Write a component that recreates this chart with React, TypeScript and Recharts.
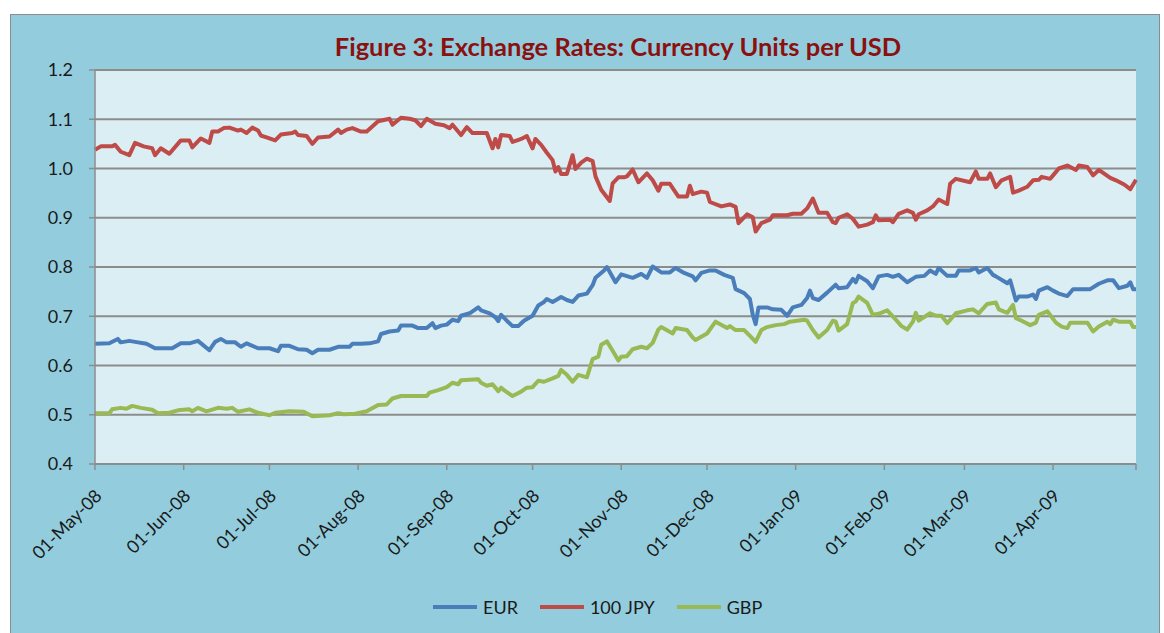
import { LineChart, Line, XAxis, YAxis, CartesianGrid } from "recharts";

// day = days since 01-May-08
const monthTicks = [0, 31, 61, 92, 123, 153, 184, 214, 245, 276, 304, 335, 364];
const monthLabels = [
  "01-May-08", "01-Jun-08", "01-Jul-08", "01-Aug-08", "01-Sep-08", "01-Oct-08",
  "01-Nov-08", "01-Dec-08", "01-Jan-09", "01-Feb-09", "01-Mar-09", "01-Apr-09", "",
];
const yTicks = [0.4, 0.5, 0.6, 0.7, 0.8, 0.9, 1.0, 1.1, 1.2];

const eurPoints: [number, number][] = [
  [0, 0.644], [5, 0.645], [8, 0.654], [9, 0.647], [12, 0.65], [14, 0.648], [18, 0.644], [21, 0.635],
  [27, 0.635], [30, 0.645], [33, 0.645], [36, 0.65], [40, 0.631], [42, 0.648], [44, 0.654], [46, 0.647],
  [49, 0.647], [51, 0.638], [53, 0.645], [57, 0.635], [61, 0.635], [64, 0.629], [65, 0.64], [68, 0.64],
  [71, 0.633], [74, 0.632], [76, 0.625], [78, 0.632], [82, 0.632], [85, 0.638], [89, 0.638], [90, 0.644],
  [93, 0.644], [96, 0.645], [99, 0.649], [100, 0.664], [103, 0.669], [106, 0.671], [107, 0.681], [111, 0.681],
  [113, 0.676], [116, 0.676], [118, 0.686], [119, 0.676], [121, 0.681], [123, 0.683], [125, 0.693], [127, 0.69],
  [128, 0.701], [131, 0.706], [134, 0.718], [135, 0.712], [138, 0.706], [140, 0.698], [141, 0.69], [142, 0.703],
  [144, 0.691], [146, 0.68], [148, 0.68], [150, 0.691], [153, 0.701], [155, 0.722], [157, 0.729], [158, 0.735],
  [160, 0.729], [163, 0.739], [165, 0.733], [167, 0.729], [169, 0.742], [172, 0.746], [174, 0.763], [175, 0.778],
  [178, 0.793], [179, 0.8], [182, 0.769], [184, 0.785], [188, 0.778], [191, 0.786], [193, 0.778], [195, 0.801],
  [198, 0.789], [201, 0.789], [203, 0.798], [206, 0.788], [209, 0.781], [210, 0.773], [212, 0.788], [215, 0.793],
  [217, 0.793], [220, 0.784], [223, 0.778], [224, 0.755], [227, 0.747], [229, 0.735], [230, 0.703], [231, 0.684],
  [232, 0.718], [235, 0.718], [237, 0.714], [240, 0.713], [242, 0.701], [244, 0.718], [247, 0.723], [249, 0.737],
  [250, 0.752], [251, 0.737], [253, 0.733], [256, 0.748], [259, 0.764], [260, 0.757], [263, 0.759], [265, 0.776],
  [266, 0.769], [267, 0.782], [270, 0.771], [272, 0.757], [274, 0.781], [277, 0.784], [279, 0.78], [281, 0.784],
  [284, 0.769], [287, 0.78], [290, 0.782], [292, 0.793], [294, 0.786], [295, 0.798], [298, 0.782], [301, 0.782],
  [302, 0.793], [306, 0.793], [308, 0.798], [309, 0.789], [312, 0.798], [314, 0.784], [315, 0.781], [319, 0.767],
  [320, 0.773], [322, 0.732], [323, 0.74], [326, 0.74], [328, 0.744], [329, 0.735], [330, 0.752], [333, 0.759],
  [335, 0.752], [337, 0.746], [340, 0.741], [342, 0.755], [348, 0.755], [351, 0.766], [354, 0.773], [356, 0.773],
  [358, 0.757], [361, 0.762], [362, 0.769], [363, 0.755], [364, 0.755],
];

const jpyPoints: [number, number][] = [
  [0, 1.038], [2, 1.045], [6, 1.045], [7, 1.048], [9, 1.034], [12, 1.027], [14, 1.052], [17, 1.045],
  [20, 1.041], [21, 1.027], [23, 1.041], [26, 1.03], [30, 1.057], [33, 1.057], [34, 1.043], [37, 1.061],
  [40, 1.052], [41, 1.075], [43, 1.075], [45, 1.082], [47, 1.083], [50, 1.077], [51, 1.079], [53, 1.072],
  [55, 1.083], [57, 1.077], [58, 1.067], [60, 1.063], [63, 1.057], [65, 1.069], [69, 1.072], [70, 1.075],
  [71, 1.068], [74, 1.066], [76, 1.05], [78, 1.063], [82, 1.065], [85, 1.079], [86, 1.072], [88, 1.079],
  [90, 1.082], [93, 1.075], [95, 1.075], [99, 1.096], [103, 1.101], [104, 1.089], [107, 1.103], [110, 1.101],
  [112, 1.098], [114, 1.086], [116, 1.101], [119, 1.091], [122, 1.088], [124, 1.082], [125, 1.089], [128, 1.068],
  [130, 1.084], [132, 1.072], [137, 1.072], [139, 1.041], [140, 1.06], [141, 1.043], [142, 1.068], [145, 1.066],
  [146, 1.054], [149, 1.06], [151, 1.066], [153, 1.041], [154, 1.06], [156, 1.048], [158, 1.032], [160, 1.017],
  [161, 0.994], [162, 1.003], [163, 0.989], [165, 0.989], [167, 1.027], [168, 0.999], [170, 1.012], [172, 1.02],
  [174, 1.015], [175, 0.984], [177, 0.957], [180, 0.934], [181, 0.97], [183, 0.982], [185, 0.982], [186, 0.984],
  [188, 0.998], [190, 0.972], [193, 0.99], [195, 0.976], [197, 0.955], [198, 0.969], [201, 0.969], [202, 0.96],
  [204, 0.943], [207, 0.943], [208, 0.965], [209, 0.948], [212, 0.953], [214, 0.951], [215, 0.932], [219, 0.923],
  [222, 0.927], [224, 0.922], [225, 0.889], [228, 0.907], [230, 0.901], [231, 0.872], [233, 0.889], [236, 0.896],
  [237, 0.905], [242, 0.905], [244, 0.908], [247, 0.908], [249, 0.919], [251, 0.939], [253, 0.91], [256, 0.91],
  [258, 0.891], [259, 0.889], [260, 0.9], [263, 0.907], [265, 0.898], [267, 0.882], [270, 0.886], [272, 0.891],
  [273, 0.905], [274, 0.895], [278, 0.896], [279, 0.891], [281, 0.908], [284, 0.915], [286, 0.91], [287, 0.896],
  [288, 0.907], [291, 0.915], [293, 0.923], [295, 0.937], [298, 0.928], [299, 0.969], [301, 0.979], [306, 0.972],
  [308, 0.994], [309, 0.979], [312, 0.979], [313, 0.99], [315, 0.962], [317, 0.976], [320, 0.983], [321, 0.951],
  [323, 0.955], [326, 0.963], [328, 0.976], [330, 0.977], [331, 0.983], [334, 0.979], [335, 0.986], [337, 1.0],
  [340, 1.006], [343, 0.997], [344, 1.006], [347, 1.003], [349, 0.986], [351, 0.997], [355, 0.981], [357, 0.976],
  [360, 0.967], [362, 0.958], [364, 0.977],
];

const gbpPoints: [number, number][] = [
  [0, 0.503], [5, 0.503], [6, 0.511], [9, 0.514], [11, 0.512], [13, 0.518], [16, 0.514], [20, 0.51],
  [22, 0.503], [26, 0.504], [29, 0.509], [33, 0.511], [34, 0.507], [36, 0.514], [39, 0.507], [43, 0.514],
  [46, 0.512], [48, 0.514], [50, 0.506], [54, 0.511], [57, 0.504], [61, 0.499], [63, 0.504], [68, 0.507],
  [73, 0.506], [76, 0.497], [82, 0.499], [85, 0.503], [87, 0.501], [91, 0.502], [95, 0.507], [99, 0.52],
  [102, 0.521], [104, 0.533], [107, 0.538], [116, 0.538], [117, 0.545], [120, 0.55], [123, 0.556], [125, 0.565],
  [127, 0.562], [128, 0.57], [134, 0.572], [135, 0.565], [137, 0.559], [139, 0.562], [141, 0.548], [142, 0.555],
  [143, 0.55], [146, 0.538], [149, 0.547], [151, 0.555], [153, 0.556], [155, 0.569], [157, 0.567], [160, 0.574],
  [162, 0.579], [163, 0.591], [165, 0.581], [167, 0.567], [169, 0.581], [172, 0.576], [174, 0.613], [176, 0.618],
  [177, 0.642], [179, 0.649], [181, 0.63], [183, 0.61], [184, 0.618], [186, 0.619], [188, 0.633], [191, 0.638],
  [193, 0.635], [195, 0.646], [197, 0.673], [198, 0.678], [202, 0.665], [203, 0.676], [207, 0.672], [209, 0.657],
  [210, 0.652], [214, 0.665], [217, 0.689], [221, 0.676], [222, 0.68], [224, 0.672], [227, 0.672], [229, 0.66],
  [231, 0.648], [233, 0.672], [235, 0.678], [238, 0.682], [241, 0.684], [243, 0.689], [248, 0.693], [249, 0.691],
  [251, 0.672], [253, 0.657], [256, 0.672], [258, 0.691], [259, 0.689], [260, 0.671], [263, 0.684], [265, 0.727],
  [266, 0.73], [267, 0.74], [270, 0.727], [272, 0.703], [274, 0.705], [277, 0.712], [280, 0.693], [282, 0.68],
  [284, 0.673], [286, 0.689], [287, 0.707], [288, 0.691], [292, 0.706], [294, 0.701], [296, 0.701], [298, 0.686],
  [301, 0.706], [305, 0.712], [307, 0.714], [309, 0.706], [312, 0.725], [315, 0.728], [316, 0.714], [319, 0.707],
  [321, 0.723], [322, 0.696], [324, 0.691], [327, 0.682], [329, 0.687], [330, 0.703], [333, 0.71], [336, 0.687],
  [338, 0.679], [340, 0.676], [341, 0.687], [347, 0.687], [349, 0.669], [351, 0.679], [354, 0.689], [355, 0.684],
  [356, 0.693], [358, 0.689], [362, 0.689], [363, 0.678], [364, 0.678],
];

const series = [
  { name: "EUR", points: eurPoints, color: "#4A7EBB" },
  { name: "100 JPY", points: jpyPoints, color: "#BE4B48" },
  { name: "GBP", points: gbpPoints, color: "#98B954" },
];

const FONT = "Lato, 'Open Sans', sans-serif";

function XTick(props: any) {
  const { x, y, payload } = props;
  const idx = monthTicks.indexOf(payload.value);
  const label = idx >= 0 ? monthLabels[idx] : "";
  const tx = x + 8;
  const ty = y + 27;
  return (
    <text
      x={tx}
      y={ty}
      transform={`rotate(-45, ${tx}, ${ty})`}
      textAnchor="end"
      fontSize={18}
      fontFamily={FONT}
      fill="#1a1a1a"
    >
      {label}
    </text>
  );
}

export default function App() {
  return (
    <div
      style={{
        position: "fixed",
        left: 10,
        top: 14,
        width: 1150,
        height: 630,
        boxSizing: "border-box",
        border: "1px solid #8c8c8c",
        background: "#93CDDD",
        fontFamily: FONT,
      }}
    >
      <div
        style={{
          position: "absolute",
          left: 207,
          top: 17,
          width: 800,
          textAlign: "center",
          fontSize: 25.5,
          lineHeight: "28px",
          fontWeight: 700,
          color: "#8B1010",
        }}
      >
        Figure 3: Exchange Rates: Currency Units per USD
      </div>
      <LineChart
        width={1148}
        height={615}
        margin={{ top: 55, right: 23, left: 24, bottom: 126 }}
      >
        <CartesianGrid
          vertical={false}
          fill="#DBEEF3"
          stroke="#8c8c8c"
          strokeWidth={2}
        />
        <XAxis
          dataKey="day"
          type="number"
          domain={[0, 364]}
          ticks={monthTicks}
          interval={0}
          height={40}
          tickSize={6}
          tickMargin={0}
          stroke="#8c8c8c"
          strokeWidth={1.5}
          tick={<XTick />}
          allowDuplicatedCategory={false}
        />
        <YAxis
          type="number"
          domain={[0.4, 1.2]}
          ticks={yTicks}
          interval={0}
          width={60}
          tickSize={6}
          tickMargin={16}
          stroke="#8c8c8c"
          strokeWidth={1.5}
          tick={{ fontSize: 18, fill: "#1a1a1a", fontFamily: FONT }}
          tickFormatter={(v: number) => v.toFixed(1)}
        />
        {series.map((s) => (
          <Line
            key={s.name}
            name={s.name}
            data={s.points.map(([day, value]) => ({ day, value }))}
            dataKey="value"
            type="linear"
            stroke={s.color}
            strokeWidth={4}
            strokeLinejoin="round"
            dot={false}
            activeDot={false}
            isAnimationActive={false}
          />
        ))}
      </LineChart>
      <div
        style={{
          position: "absolute",
          left: 422,
          top: 580,
          display: "flex",
          alignItems: "center",
          fontSize: 18,
          color: "#1a1a1a",
          lineHeight: "24px",
        }}
      >
        {series.map((s) => (
          <div key={s.name} style={{ display: "flex", alignItems: "center", marginRight: 22 }}>
            <div style={{ width: 44, height: 4, background: s.color, marginRight: 6 }} />
            <span>{s.name}</span>
          </div>
        ))}
      </div>
    </div>
  );
}
